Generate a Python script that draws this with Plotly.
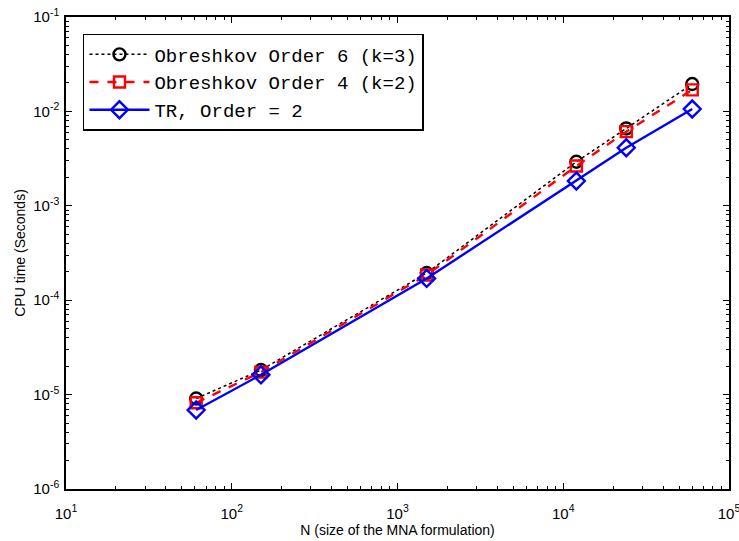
import plotly.graph_objects as go

N = [61, 150, 1500, 12000, 24000, 60000]
obr6 = [9.1e-6, 1.82e-5, 1.94e-4, 2.93e-3, 6.6e-3, 1.95e-2]
obr4 = [8.2e-6, 1.73e-5, 1.85e-4, 2.64e-3, 6.1e-3, 1.69e-2]
tr2 = [6.87e-6, 1.62e-5, 1.70e-4, 1.83e-3, 4.12e-3, 1.06e-2]
names = ["Obreshkov Order 6 (k=3)", "Obreshkov Order 4 (k=2)", "TR, Order = 2"]

x_exps = [1, 2, 3, 4, 5]
y_exps = [-6, -5, -4, -3, -2, -1]
x_major = [10.0 ** e for e in x_exps]
y_major = [10.0 ** e for e in y_exps]
x_labels = ["10<sup>%d</sup>" % e for e in x_exps]
y_labels = ["10<sup>%d</sup>" % e for e in y_exps]
x_minor = [m * 10.0 ** e for e in x_exps[:-1] for m in range(2, 10)]
y_minor = [m * 10.0 ** e for e in y_exps[:-1] for m in range(2, 10)]

FONT = "Liberation Sans, Arial, sans-serif"

fig = go.Figure()
fig.add_trace(go.Scatter(x=N, y=obr6, name=names[0], mode="lines+markers",
                         line=dict(color="black", width=1.5, dash="dot"),
                         marker=dict(symbol="circle-open", size=12, color="black", line=dict(width=2.4))))
fig.add_trace(go.Scatter(x=N, y=obr4, name=names[1], mode="lines+markers",
                         line=dict(color="red", width=2.4, dash="dash"),
                         marker=dict(symbol="square-open", size=11, color="red", line=dict(width=2.4))))
fig.add_trace(go.Scatter(x=N, y=tr2, name=names[2], mode="lines+markers",
                         line=dict(color="blue", width=2.4),
                         marker=dict(symbol="diamond-open", size=13, color="blue", line=dict(width=2.4))))
# invisible trace to anchor the minor-tick overlay axes
fig.add_trace(go.Scatter(x=[N[0]], y=[tr2[0]], xaxis="x2", yaxis="y2", mode="markers",
                         marker=dict(opacity=0), showlegend=False, hoverinfo="skip"))

axis_common = dict(type="log", showgrid=False, zeroline=False, showline=True, linecolor="black",
                   linewidth=1.5, mirror="ticks", ticks="inside", ticklen=6, tickcolor="black",
                   tickwidth=1, tickmode="array", ticklabeloverflow="allow", automargin=False,
                   tickfont=dict(family=FONT, size=15, color="black"))

fig.update_layout(
    xaxis=dict(range=[1, 5], tickvals=x_major, ticktext=x_labels, ticklabelstandoff=10,
               title=dict(text="N (size of the MNA formulation)",
                          font=dict(family=FONT, size=14, color="black"), standoff=0),
               **axis_common),
    yaxis=dict(range=[-6, -1], tickvals=y_major, ticktext=y_labels, ticklabelstandoff=2,
               title=dict(text="CPU time (Seconds)",
                          font=dict(family=FONT, size=14, color="black"), standoff=4),
               **axis_common),
    xaxis2=dict(type="log", range=[1, 5], overlaying="x", anchor="y2", side="bottom",
                tickmode="array", tickvals=x_minor, ticks="inside", ticklen=3, tickcolor="black",
                showticklabels=False, showgrid=False, zeroline=False, showline=False, mirror="allticks"),
    yaxis2=dict(type="log", range=[-6, -1], overlaying="y", anchor="x2", side="left",
                tickmode="array", tickvals=y_minor, ticks="inside", ticklen=3, tickcolor="black",
                showticklabels=False, showgrid=False, zeroline=False, showline=False, mirror="allticks"),
    width=739, height=541,
    margin=dict(l=66, r=10, t=17, b=52),
    paper_bgcolor="white", plot_bgcolor="white",
    showlegend=True,
    legend=dict(x=0.0256, y=0.964, xanchor="left", yanchor="top",
                bgcolor="white", bordercolor="black", borderwidth=1.5,
                font=dict(family="Liberation Mono, Courier New, monospace", size=19, color="black"),
                tracegroupgap=0, itemwidth=60),
)

fig.write_html("out.html")
